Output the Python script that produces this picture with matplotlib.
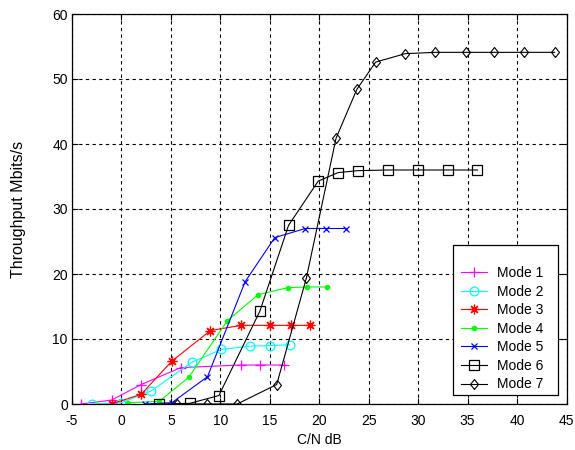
import matplotlib
matplotlib.use("Agg")
import matplotlib.pyplot as plt
from matplotlib.patches import Rectangle

plt.rcParams['font.family'] = ['Liberation Sans', 'DejaVu Sans']
plt.rcParams['axes.unicode_minus'] = False

# Throughput (Mbit/s) versus C/N (dB) for each transmission mode
mode1_cn = [-4.1, -1.0, 2.0, 6.0, 12.1, 14.0, 16.4]
mode1_tp = [0.0, 0.6, 3.0, 5.6, 6.0, 6.0, 6.0]

mode2_cn = [-3.0, 0.0, 3.0, 7.1, 10.1, 13.0, 15.0, 17.0]
mode2_tp = [0.0, 0.2, 2.0, 6.4, 8.4, 8.9, 9.0, 9.1]

mode3_cn = [-1.0, 2.0, 5.1, 9.0, 12.1, 15.0, 17.1, 19.1]
mode3_tp = [0.0, 1.5, 6.6, 11.3, 12.1, 12.1, 12.1, 12.1]

mode4_cn = [0.7, 3.8, 6.8, 10.7, 13.8, 16.8, 18.8, 20.8]
mode4_tp = [0.2, 0.4, 4.1, 12.8, 16.8, 17.9, 18.0, 18.0]

mode5_cn = [2.4, 5.1, 8.7, 12.5, 15.5, 18.6, 20.7, 22.7]
mode5_tp = [0.0, 0.2, 4.2, 18.8, 25.6, 27.0, 27.0, 27.0]

mode6_cn = [3.8, 6.9, 9.85, 14.0, 16.9, 19.9, 21.9, 23.9, 27.0, 30.0, 33.0, 36.0]
mode6_tp = [0.0, 0.1, 1.3, 14.3, 27.5, 34.3, 35.6, 35.9, 36.0, 36.0, 36.0, 36.0]

mode7_cn = [5.65, 8.7, 11.7, 15.7, 18.7, 21.7, 23.8, 25.7, 28.7, 31.7, 34.8, 37.7, 40.7, 43.8]
mode7_tp = [0.0, 0.0, 0.0, 3.0, 19.4, 40.9, 48.4, 52.6, 53.9, 54.1, 54.1, 54.1, 54.1, 54.1]

labels = ["Mode 1", "Mode 2", "Mode 3", "Mode 4", "Mode 5", "Mode 6", "Mode 7"]
xticks = [-5, 0, 5, 10, 15, 20, 25, 30, 35, 40, 45]
yticks = [0, 10, 20, 30, 40, 50, 60]

W, H = 575, 450
fig = plt.figure(figsize=(W / 100, H / 100), dpi=100)
ax = fig.add_axes([72 / W, 46 / H, 494.5 / W, 390 / H])

# diamond slightly narrower than it is tall
diamond = [(0, -1), (0.8, 0), (0, 1), (-0.8, 0), (0, -1)]

lw = 0.8
ax.plot(mode1_cn, mode1_tp, color='#ff00ff', marker='+', ms=6.5, mew=0.9, lw=lw, label=labels[0])
ax.plot(mode2_cn, mode2_tp, color='#00ffff', marker='o', ms=6.3, mfc='none', mew=0.9, lw=lw, label=labels[1])
ax.plot(mode3_cn, mode3_tp, color='#ff0000', marker=(8, 2, 0), ms=7, mew=0.9, lw=lw, label=labels[2])
ax.plot(mode4_cn, mode4_tp, color='#00ff00', marker='.', ms=6, lw=lw, label=labels[3])
ax.plot(mode5_cn, mode5_tp, color='#0000ff', marker='x', ms=3.8, mew=0.9, lw=lw, label=labels[4])
ax.plot(mode6_cn, mode6_tp, color='black', marker='s', ms=6.5, mfc='none', mew=0.9, lw=lw, label=labels[5])
ax.plot(mode7_cn, mode7_tp, color='black', marker=diamond, ms=7.2, mfc='none', mew=0.8, lw=lw, label=labels[6])

ax.set_xlim(-5, 45)
ax.set_ylim(0, 60)
ax.set_xticks(xticks)
ax.set_yticks(yticks)
ax.tick_params(direction='in', top=True, right=True, length=4, labelsize=10, width=0.8)
ax.tick_params(axis='x', pad=7)
ax.tick_params(axis='y', pad=3)
ax.grid(True, color='black', linestyle=(0, (3, 3)), linewidth=0.8)
for s in ax.spines.values():
    s.set_linewidth(0.9)

ax.set_xlabel("C/N dB", fontsize=10, labelpad=4)
ax.set_ylabel("Throughput Mbits/s", fontsize=11.5, labelpad=19)

# legend box
ax.add_patch(Rectangle((0.771, 0.022), 0.212, 0.386, transform=ax.transAxes,
                       facecolor='white', edgecolor='black', linewidth=0.9, zorder=5))
leg = ax.legend(loc='upper left', bbox_to_anchor=(461 / W, 1 - 266 / H),
                bbox_transform=fig.transFigure, fontsize=10, frameon=False,
                handlelength=1.9, handletextpad=0.7, borderaxespad=0, borderpad=0,
                labelspacing=0.33)
leg.set_zorder(6)

fig.savefig("out.png", dpi=100)
